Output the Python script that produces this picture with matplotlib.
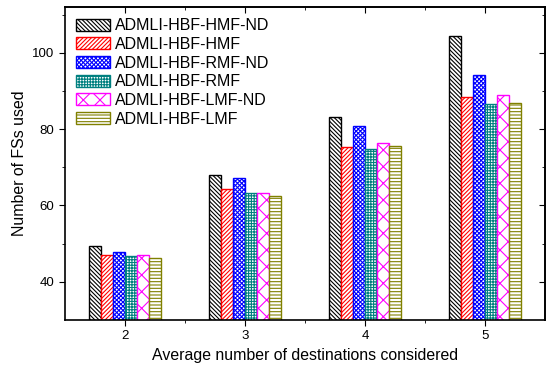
import numpy as np
import matplotlib
matplotlib.use("Agg")
import matplotlib.pyplot as plt

plt.rcParams['font.family'] = ['Liberation Sans', 'DejaVu Sans']
plt.rcParams['hatch.linewidth'] = 0.8

destinations = [2, 3, 4, 5]
labels = ["ADMLI-HBF-HMF-ND", "ADMLI-HBF-HMF", "ADMLI-HBF-RMF-ND",
          "ADMLI-HBF-RMF", "ADMLI-HBF-LMF-ND", "ADMLI-HBF-LMF"]
hmf_nd = [49.4, 68.1, 83.1, 104.5]
hmf = [47.0, 64.4, 75.3, 88.3]
rmf_nd = [47.9, 67.3, 80.8, 94.1]
rmf = [46.8, 63.2, 74.7, 86.5]
lmf_nd = [47.0, 63.2, 76.4, 89.0]
lmf = [46.3, 62.4, 75.6, 86.8]

series = [hmf_nd, hmf, rmf_nd, rmf, lmf_nd, lmf]
colors = ["black", "red", "blue", "#008080", "magenta", "#808000"]
hatches = ["\\" * 8, "/" * 8, "x" * 8, "+" * 6, "xx", "-" * 5]

fig = plt.figure(figsize=(5.46, 3.69), dpi=100)
ax = fig.add_axes([0.119, 0.133, 0.879, 0.848])

x = np.array(destinations, dtype=float)
w = 0.1
for i, (vals, c, h, lab) in enumerate(zip(series, colors, hatches, labels)):
    ax.bar(x + (i - 2.5) * w, vals, w, facecolor="white", edgecolor=c,
           hatch=h, linewidth=1.0, label=lab, zorder=2)

ax.set_xlim(1.5, 5.5)
ax.set_ylim(30, 112)
ax.set_xticks(destinations)
ax.set_xticks([2.5, 3.5, 4.5], minor=True)
ax.set_yticks([40, 60, 80, 100])
ax.set_yticks([50, 70, 90, 110], minor=True)
ax.tick_params(axis="both", which="major", direction="out", length=4, labelsize=9.5)
ax.tick_params(axis="both", which="minor", direction="out", length=2)
for s in ax.spines.values():
    s.set_linewidth(1.2)

# mirrored ticks pointing inward on top and right
top = ax.secondary_xaxis("top")
top.set_xticks(destinations)
top.set_xticks([2.5, 3.5, 4.5], minor=True)
top.tick_params(which="major", direction="in", length=4, labeltop=False)
top.tick_params(which="minor", direction="in", length=2)
right = ax.secondary_yaxis("right")
right.set_yticks([40, 60, 80, 100])
right.set_yticks([50, 70, 90, 110], minor=True)
right.tick_params(which="major", direction="in", length=4, labelright=False)
right.tick_params(which="minor", direction="in", length=2)
for sec in (top, right):
    for s in sec.spines.values():
        s.set_linewidth(1.2)

ax.set_xlabel("Average number of destinations considered", fontsize=11.4)
ax.set_ylabel("Number of FSs used", fontsize=11.4)

ax.legend(loc="upper left", frameon=False, fontsize=11.5, handlelength=2.1,
          handleheight=0.8, labelspacing=0.23, handletextpad=0.35,
          borderaxespad=0.3, bbox_to_anchor=(0.0, 1.0))

fig.savefig("out.png", dpi=100)
